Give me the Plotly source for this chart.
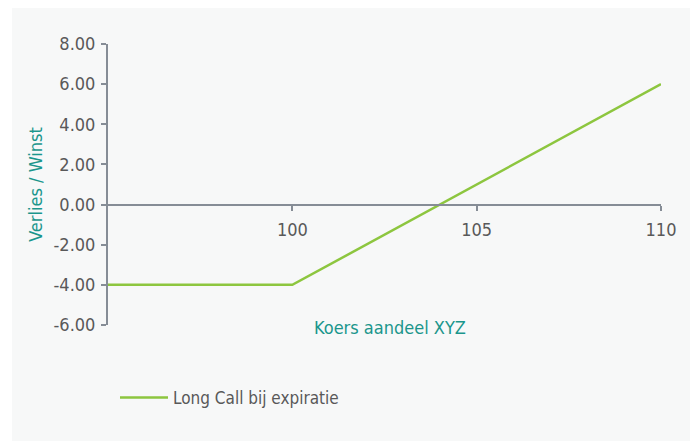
import plotly.graph_objects as go

# Data
koers = [95, 100, 110]
winst = [-4, -4, 6]
x_ticks = [100, 105, 110]
y_ticks = [-6, -4, -2, 0, 2, 4, 6, 8]
y_ticklabels = ["-6.00", "-4.00", "-2.00", "0.00", "2.00", "4.00", "6.00", "8.00"]
series_name = "Long Call bij expiratie"
x_title = "Koers aandeel XYZ"
y_title = "Verlies / Winst"

FONT = "Liberation Sans Narrow, DejaVu Sans Condensed, Roboto, sans-serif"
AXIS = "#868d96"
TXT = "#595959"
TEAL = "#1b968c"
GREEN = "#8dc63f"
PANEL = "#f7f8f8"

fig = go.Figure()
fig.add_trace(go.Scatter(x=koers, y=winst, mode="lines", name=series_name,
                         line=dict(color=GREEN, width=2.5)))

# page is offset by 8px body margin
OFF = 8
W, H = 690, 433
L, R, T, B = 100, 37, 36, 116
pw, ph = W - L - R, H - T - B

def px_x(p):  # page x -> paper fraction
    return (p - OFF - L) / pw

def px_y(p):  # page y -> paper fraction
    return (H - B - (p - OFF)) / ph

fig.add_shape(type="rect", xref="paper", yref="paper",
              x0=px_x(12), x1=px_x(693), y0=px_y(445), y1=px_y(7),
              fillcolor=PANEL, line=dict(width=0), layer="below")

y0frac = (0 - min(y_ticks)) / (max(y_ticks) - min(y_ticks))

fig.update_layout(
    width=W, height=H,
    margin=dict(l=L, r=R, t=T, b=B),
    paper_bgcolor="white", plot_bgcolor="rgba(0,0,0,0)",
    font=dict(family=FONT, size=18, color=TXT),
    showlegend=True,
    legend=dict(x=px_x(115), y=px_y(398), xanchor="left", yanchor="middle",
                itemwidth=48,
                bgcolor="rgba(0,0,0,0)", font=dict(size=17, color=TXT)),
    xaxis=dict(range=[95, 110], tickvals=x_ticks, showgrid=False, zeroline=False,
               showline=True, linecolor=AXIS, linewidth=2,
               ticks="outside", ticklen=5, tickcolor=AXIS, tickwidth=2,
               ticklabelstandoff=4,
               anchor="free", position=y0frac,
               tickfont=dict(size=18, color=TXT)),
    yaxis=dict(range=[-6, 8], tickvals=y_ticks, ticktext=y_ticklabels, showgrid=False,
               zeroline=False, showline=True, linecolor=AXIS, linewidth=2,
               ticks="outside", ticklen=5, tickcolor=AXIS, tickwidth=2,
               ticklabelstandoff=2,
               tickfont=dict(size=18, color=TXT),
               title=dict(text=y_title, font=dict(size=18, color=TEAL), standoff=6)),
    annotations=[dict(text=x_title, xref="paper", yref="paper",
                      x=px_x(390), y=px_y(327), xanchor="center", yanchor="middle",
                      showarrow=False, font=dict(size=18, color=TEAL))],
)

fig.write_html("out.html")
